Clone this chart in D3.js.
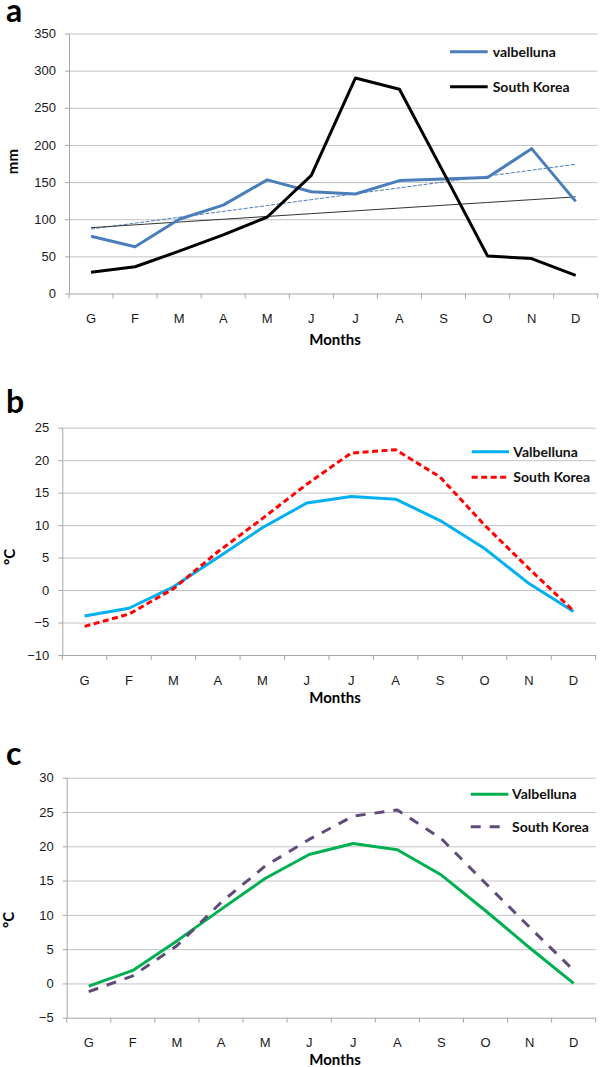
<!DOCTYPE html>
<html>
<head>
<meta charset="utf-8">
<script src="https://cdn.jsdelivr.net/npm/d3@7"></script>
<style>
  body { margin: 0; background: #fff; }
  svg { font-family: Lato, "Open Sans", sans-serif; }
  .grid line { stroke: #c3c3c3; stroke-width: 1; }
  .grid path { display: none; }
  .yaxis line, .yaxis path, .xaxis path, .xticks line { stroke: #a6a6a6; }
  .yaxis text, .xaxis text { font-size: 13px; fill: #1a1a1a; }
  .legend text { font-size: 14px; font-weight: bold; fill: #111; }
  .ptitle { font-size: 32px; font-weight: bold; }
  .atitle { font-size: 15px; font-weight: bold; }
</style>
</head>
<body>
<svg width="600" height="1067"></svg>
<script>
// months (Italian initials, as in the figure)
var months = ["G","F","M","A","M","J","J","A","S","O","N","D"];

// panel a - precipitation (mm)
var rainValbelluna = [77, 63, 100, 119, 153, 137, 134, 152, 154, 156, 195, 124];
var rainKorea      = [28.5, 36, 57, 79, 103, 159, 290, 275, 163, 50.5, 47, 24.5];
var rainTicks      = [0, 50, 100, 150, 200, 250, 300, 350];
var rainLegend     = ["valbelluna", "South Korea"];

// panel b - temperature (°C)
var tempBValbelluna = [-4.0, -2.8, 0.5, 5.0, 9.6, 13.4, 14.4, 14.0, 10.7, 6.4, 1.0, -3.3];
var tempBKorea      = [-5.6, -3.7, 0.2, 5.9, 11.0, 16.3, 21.1, 21.6, 17.4, 10.0, 3.3, -3.2];
var tempBTicks      = [-10, -5, 0, 5, 10, 15, 20, 25];

// panel c - temperature (°C)
var tempCValbelluna = [-0.4, 1.9, 6.2, 10.8, 15.3, 18.8, 20.4, 19.5, 15.8, 10.6, 5.2, 0.0];
var tempCKorea      = [-1.2, 1.1, 5.5, 11.8, 17.1, 21.0, 24.4, 25.3, 21.1, 14.6, 8.2, 1.9];
var tempCTicks      = [-5, 0, 5, 10, 15, 20, 25, 30];

var tempLegend = ["Valbelluna", "South Korea"];

var svg = d3.select("svg");

// least squares fit, used for the trend lines of panel a
function trend(vals){
  var mx = d3.mean(vals, (d,i) => i),
      my = d3.mean(vals),
      sxy = d3.sum(vals, (d,i) => (i-mx)*(d-my)),
      sxx = d3.sum(vals, (d,i) => (i-mx)*(i-mx)),
      b = sxy/sxx;
  return vals.map((d,i) => my + b*(i-mx));
}

function drawPanel(p){
  var g = svg.append("g");

  var x = d3.scaleBand()
            .domain(d3.range(months.length))
            .range([p.left, p.right])
            .paddingInner(0).paddingOuter(0);

  var y = d3.scaleLinear()
            .domain([p.ticks[0], p.ticks[p.ticks.length-1]])
            .range([p.bottom, p.top]);

  //grid
  g.append("g")
   .attr("class","grid")
   .attr("transform","translate(" + p.left + ",0)")
   .call(d3.axisLeft(y).tickValues(p.ticks.slice(1)).tickSize(-(p.right - p.left)).tickFormat(""));

  //y axis
  g.append("g")
   .attr("class","yaxis")
   .attr("transform","translate(" + p.left + ",0)")
   .call(d3.axisLeft(y).tickValues(p.ticks).tickSize(4).tickPadding(9).tickSizeOuter(0));

  //x axis labels
  g.append("g")
   .attr("class","xaxis")
   .attr("transform","translate(0," + p.bottom + ")")
   .call(d3.axisBottom(x).tickSize(0).tickPadding(20.5).tickFormat(i => months[i]));

  //x tick marks between months
  g.append("g")
   .attr("class","xticks")
   .selectAll("line")
   .data(d3.range(months.length + 1))
   .enter().append("line")
     .attr("x1", i => p.left + i*x.step())
     .attr("x2", i => p.left + i*x.step())
     .attr("y1", p.bottom)
     .attr("y2", p.bottom + 5);

  var line = d3.line()
               .x((d,i) => x(i) + x.bandwidth()/2)
               .y(d => y(d));

  //trend lines
  (p.trends || []).forEach(function(t){
    g.append("path")
     .datum(trend(t.values))
     .attr("d", line)
     .attr("fill","none")
     .attr("stroke", t.color)
     .attr("stroke-width", t.width)
     .attr("stroke-dasharray", t.dash || null);
  });

  //series
  p.series.forEach(function(s){
    g.append("path")
     .datum(s.values)
     .attr("d", line)
     .attr("fill","none")
     .attr("stroke", s.color)
     .attr("stroke-width", 3)
     .attr("stroke-linejoin","round")
     .attr("stroke-dasharray", s.dash || null);
  });

  //legend
  var lg = g.append("g").attr("class","legend");
  p.series.forEach(function(s,i){
    var ly = p.legendY[i];
    lg.append("line")
      .attr("x1", p.legendX[0]).attr("x2", s.legendEnd || p.legendX[1])
      .attr("y1", ly).attr("y2", ly)
      .attr("stroke", s.color)
      .attr("stroke-width", 3)
      .attr("stroke-dasharray", s.dash || null);
    lg.append("text")
      .attr("x", p.legendX[2])
      .attr("y", ly + 5)
      .text(p.legend[i]);
  });

  //titles
  g.append("text")
   .attr("class","ptitle")
   .attr("x", 6).attr("y", p.labelY)
   .text(p.label);

  g.append("text")
   .attr("class","atitle")
   .attr("text-anchor","middle")
   .attr("transform","translate(" + p.yTitle[0] + "," + p.yTitle[1] + ") rotate(-90)")
   .attr("dy","0.35em")
   .text(p.yLabel);

  g.append("text")
   .attr("class","atitle")
   .attr("text-anchor","middle")
   .attr("x", 335).attr("y", p.monthsY)
   .text("Months");
}

drawPanel({
  left: 69, right: 597.7, top: 33.5, bottom: 293.5,
  ticks: rainTicks,
  series: [
    {values: rainValbelluna, color: "#4a7ebb"},
    {values: rainKorea, color: "#000000"}
  ],
  trends: [
    {values: rainValbelluna, color: "#4a7ebb", width: 1, dash: "4,1.5"},
    {values: rainKorea, color: "#333333", width: 1}
  ],
  legend: rainLegend, legendX: [450, 487.7, 492.7], legendY: [51.7, 86.7],
  label: "a", labelY: 22, yLabel: "mm", yTitle: [12.5, 161.6], monthsY: 344.8
});

drawPanel({
  left: 62.3, right: 595.7, top: 427.7, bottom: 655,
  ticks: tempBTicks,
  series: [
    {values: tempBValbelluna, color: "#00b0f0"},
    {values: tempBKorea, color: "#ff0000", dash: "6,3.5"}
  ],
  legend: tempLegend, legendX: [471.7, 509, 513.3], legendY: [451.7, 477.3],
  label: "b", labelY: 413, yLabel: "°C", yTitle: [10, 557], monthsY: 702.7
});

drawPanel({
  left: 66.7, right: 595.7, top: 777.7, bottom: 1017.7,
  ticks: tempCTicks,
  series: [
    {values: tempCValbelluna, color: "#00b050"},
    {values: tempCKorea, color: "#604a7b", dash: "10,9", legendEnd: 500.7}
  ],
  legend: tempLegend, legendX: [470.7, 508.3, 512], legendY: [794.3, 826.7],
  label: "c", labelY: 765, yLabel: "°C", yTitle: [9, 920], monthsY: 1065.4
});
</script>
</body>
</html>
